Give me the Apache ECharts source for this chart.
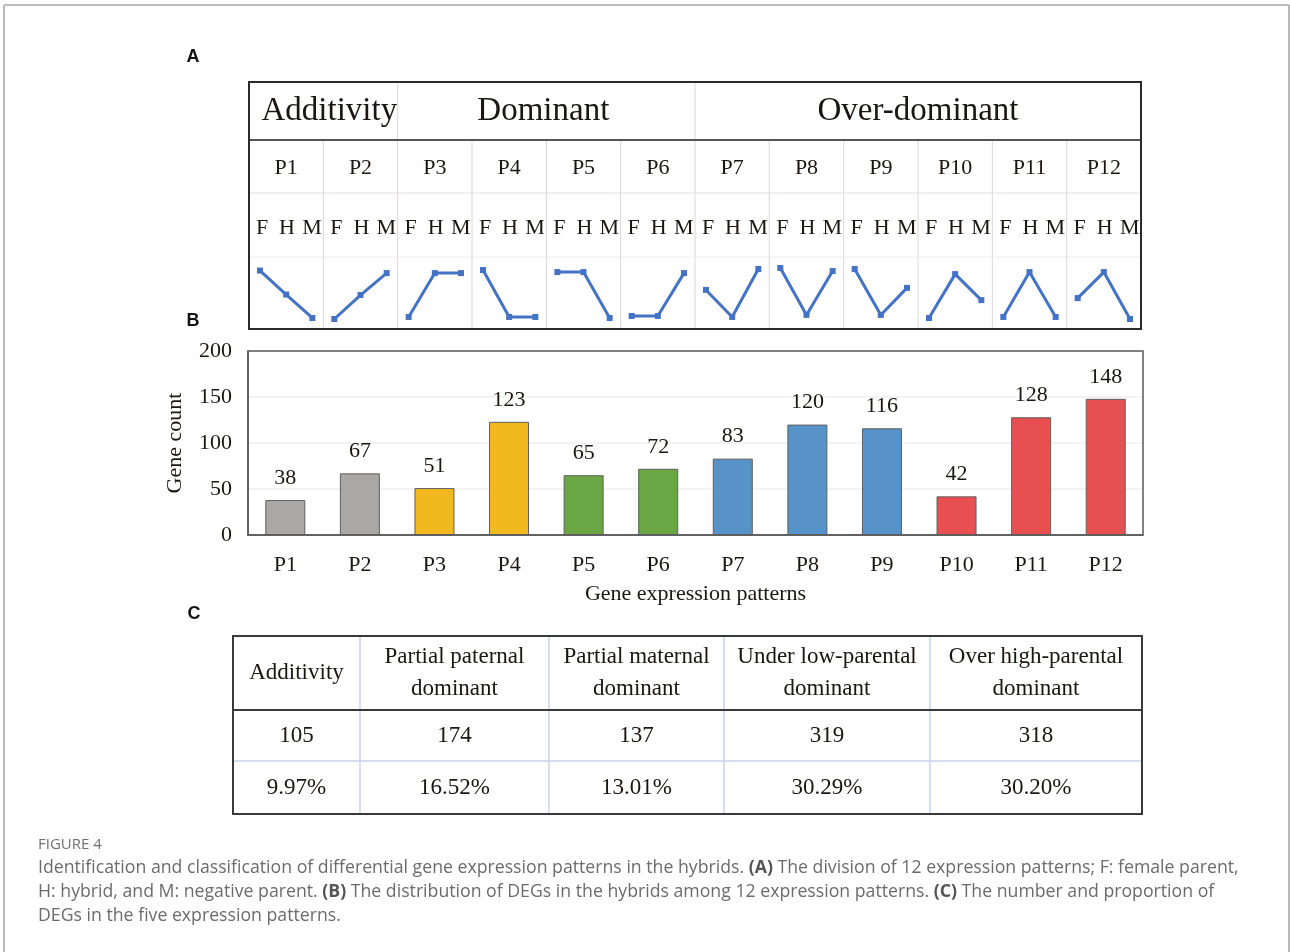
<!DOCTYPE html>
<html>
<head>
<meta charset="utf-8">
<title>Figure 4 – Gene expression patterns</title>
<script src="https://cdn.jsdelivr.net/npm/echarts@6/dist/echarts.min.js"></script>
<style>
  html, body { margin: 0; padding: 0; background: #ffffff; }
  #chart { width: 1290px; height: 952px; }
</style>
</head>
<body>
<div id="chart"></div>
<script>
// ---------- data ----------
const patterns = ['P1', 'P2', 'P3', 'P4', 'P5', 'P6', 'P7', 'P8', 'P9', 'P10', 'P11', 'P12'];
const geneCounts = [38, 67, 51, 123, 65, 72, 83, 120, 116, 42, 128, 148];
const groupNames = ['Additivity', 'Dominant', 'Over-dominant'];
const groupSpans = [2, 4, 6];
const parents = ['F', 'H', 'M'];
// relative expression level of F, H and M in each pattern (0 = low, 10 = high)
const patternLevels = [
  [9.5, 4.8, 0.2],
  [0.0, 4.7, 9.0],
  [0.4, 9.0, 9.0],
  [9.6, 0.4, 0.4],
  [9.2, 9.2, 0.2],
  [0.6, 0.6, 9.0],
  [5.7, 0.4, 9.8],
  [10.0, 0.8, 9.4],
  [9.8, 0.8, 6.1],
  [0.2, 8.8, 3.7],
  [0.4, 9.2, 0.4],
  [4.1, 9.2, 0.0]
];
const yTicks = [0, 50, 100, 150, 200];
const classNames = ['Additivity', 'Partial paternal\ndominant', 'Partial maternal\ndominant',
                    'Under low-parental\ndominant', 'Over high-parental\ndominant'];
const classCounts = [105, 174, 137, 319, 318];
const classShares = ['9.97%', '16.52%', '13.01%', '30.29%', '30.20%'];

// ---------- styles ----------
const barColors = ['#aba7a5', '#aba7a5', '#f2b91f', '#f2b91f', '#6aa744', '#6aa744',
                   '#5792c8', '#5792c8', '#5792c8', '#e84f51', '#e84f51', '#e84f51'];
const SERIF = '"Liberation Serif", "Times New Roman", serif';
const SANS = '"Liberation Sans", Arial, sans-serif';
const CAP = '"Open Sans", "Noto Sans", sans-serif';
const INK = '#1a1613';
const LINE_BLUE = '#4472c4';

// ---------- layout ----------
const A = { x0: 249, x1: 1141, rows: [82, 140, 193, 257, 329] };
const colW = (A.x1 - A.x0) / patterns.length;
const B = { left: 248, right: 1143, top: 351, bottom: 535 };
const C = { cols: [233, 360, 549, 724, 930, 1142], rows: [636, 710, 761, 814] };

const graphics = [];
function hLine(x0, x1, y, color, w) {
  graphics.push({ type: 'line', shape: { x1: x0, y1: y, x2: x1, y2: y },
    style: { stroke: color, lineWidth: w }, silent: true });
}
function vLine(x, y0, y1, color, w) {
  graphics.push({ type: 'line', shape: { x1: x, y1: y0, x2: x, y2: y1 },
    style: { stroke: color, lineWidth: w }, silent: true });
}
function text(str, x, y, font, opts) {
  graphics.push(Object.assign({ type: 'text', x: x, y: y, silent: true,
    style: Object.assign({ text: str, font: font, fill: INK, align: 'center',
      verticalAlign: 'middle' }, opts || {}) }));
}

// page frame
hLine(4, 1289, 5, '#b9b9b9', 2);
vLine(4, 5, 952, '#b9b9b9', 2);
vLine(1289, 5, 952, '#b9b9b9', 2);

// panel letters
text('A', 193, 57, 'bold 18px ' + SANS, { fill: '#111' });
text('B', 193, 321, 'bold 18px ' + SANS, { fill: '#111' });
text('C', 194, 614, 'bold 18px ' + SANS, { fill: '#111' });

// ---- panel A: pattern table ----
const gridLight = '#dcd6d6';
// group header
let acc = 0;
groupNames.forEach((g, i) => {
  const xs = A.x0 + acc * colW, xe = A.x0 + (acc + groupSpans[i]) * colW;
  text(g, (xs + xe) / 2 + (i === 0 ? 6 : i === 1 ? -3 : 0), 111, '33px ' + SERIF);
  acc += groupSpans[i];
  if (i < groupNames.length - 1) vLine(xe, A.rows[0], A.rows[1], gridLight, 1);
});
// pattern columns
for (let i = 1; i < patterns.length; i++) {
  vLine(A.x0 + i * colW, A.rows[1], A.rows[4], gridLight, 1);
}
hLine(A.x0, A.x1, A.rows[2], '#e2dede', 1);
hLine(A.x0, A.x1, A.rows[3], '#eeeaea', 1);
hLine(A.x0, A.x1, A.rows[1], '#555', 2);
patterns.forEach((p, i) => {
  const xl = A.x0 + i * colW;
  text(p, xl + colW / 2, 168, '22px ' + SERIF);
  const offs = [13, 38, 63];
  parents.forEach((s, k) => text(s, xl + offs[k], 228, '22px ' + SERIF));
});
// outer box of table A
graphics.push({ type: 'rect', shape: { x: A.x0, y: A.rows[0], width: A.x1 - A.x0, height: A.rows[4] - A.rows[0] },
  style: { fill: null, stroke: '#2b2b2b', lineWidth: 2 }, silent: true, z: 10 });

// ---- panel B: frame drawn above the split lines ----
graphics.push({ type: 'rect', shape: { x: B.left, y: B.top, width: B.right - B.left, height: B.bottom - B.top },
  style: { fill: null, stroke: '#5a5a5a', lineWidth: 1.5 }, silent: true, z: 100 });

// ---- panel C: summary table ----
const blueRule = '#c8d2e8';
for (let i = 1; i < C.cols.length - 1; i++) vLine(C.cols[i], C.rows[0], C.rows[3], blueRule, 1.5);
hLine(C.cols[0], C.cols[5], C.rows[2], blueRule, 1.5);
hLine(C.cols[0], C.cols[5], C.rows[1], '#3a3a3a', 2);
graphics.push({ type: 'rect', shape: { x: C.cols[0], y: C.rows[0], width: C.cols[5] - C.cols[0], height: C.rows[3] - C.rows[0] },
  style: { fill: null, stroke: '#3a3a3a', lineWidth: 2 }, silent: true, z: 10 });
classNames.forEach((n, i) => {
  const cx = (C.cols[i] + C.cols[i + 1]) / 2;
  text(n, cx, (C.rows[0] + C.rows[1]) / 2, '23px ' + SERIF, { lineHeight: 32 });
  text(String(classCounts[i]), cx, (C.rows[1] + C.rows[2]) / 2, '23px ' + SERIF);
  text(classShares[i], cx, (C.rows[2] + C.rows[3]) / 2, '23px ' + SERIF);
});

// ---- caption ----
const capColor = '#6b6b6b';
text('FIGURE 4', 38, 845, '15px ' + CAP, { align: 'left', fill: '#707070' });
const capLines = [
  'Identification and classification of differential gene expression patterns in the hybrids. {b|(A)} The division of 12 expression patterns; F: female parent,',
  'H: hybrid, and M: negative parent. {b|(B)} The distribution of DEGs in the hybrids among 12 expression patterns. {b|(C)} The number and proportion of',
  'DEGs in the five expression patterns.'
];
capLines.forEach((ln, i) => {
  graphics.push({ type: 'text', x: 38, y: 868 + i * 24, silent: true,
    style: { text: ln, font: '17.7px ' + CAP, fill: capColor, align: 'left', verticalAlign: 'middle',
      rich: { b: { font: 'bold 17.7px ' + CAP, fill: '#555' } } } });
});

// ---------- grids / axes / series ----------
const grids = [{ left: B.left, top: B.top, width: B.right - B.left, height: B.bottom - B.top }];
const xAxes = [{
  type: 'category', gridIndex: 0, data: patterns,
  axisTick: { show: false },
  axisLine: { lineStyle: { color: '#5a5a5a', width: 1.5 } },
  axisLabel: { color: INK, fontFamily: SERIF, fontSize: 22, margin: 19 },
  name: 'Gene expression patterns', nameLocation: 'middle', nameGap: 48,
  nameTextStyle: { color: INK, fontFamily: SERIF, fontSize: 22 }
}];
const yAxes = [{
  type: 'value', gridIndex: 0, min: yTicks[0], max: yTicks[yTicks.length - 1], interval: yTicks[1] - yTicks[0],
  axisLine: { show: true, lineStyle: { color: '#5a5a5a', width: 1.5 } },
  axisTick: { show: false },
  splitLine: { lineStyle: { color: '#efefef', width: 1.5 } },
  axisLabel: { color: INK, fontFamily: SERIF, fontSize: 22, margin: 16 },
  name: 'Gene count', nameLocation: 'middle', nameGap: 62, nameRotate: 90,
  nameTextStyle: { color: INK, fontFamily: SERIF, fontSize: 22 }
}];
const series = [{
  type: 'bar', xAxisIndex: 0, yAxisIndex: 0, barWidth: 40,
  data: geneCounts.map((v, i) => ({ value: v, itemStyle: { color: barColors[i] } })),
  itemStyle: { borderColor: '#5f5f5f', borderWidth: 1 },
  label: { show: true, position: 'top', distance: 11, color: INK, fontFamily: SERIF, fontSize: 22 },
  silent: true
}];

// mini line charts, one per pattern cell of panel A
patternLevels.forEach((lv, i) => {
  const idx = i + 1;
  grids.push({ left: A.x0 + i * colW + 11, top: 268, width: colW - 22, height: 51 });
  xAxes.push({ type: 'category', gridIndex: idx, data: parents, boundaryGap: false, show: false });
  yAxes.push({ type: 'value', gridIndex: idx, min: 0, max: 10, show: false });
  series.push({
    type: 'line', xAxisIndex: idx, yAxisIndex: idx, data: lv,
    symbol: 'rect', symbolSize: 6, showSymbol: true,
    lineStyle: { color: LINE_BLUE, width: 3 },
    itemStyle: { color: LINE_BLUE },
    silent: true, animation: false, z: 5
  });
});

const chart = echarts.init(document.getElementById('chart'), null, { renderer: 'canvas' });
chart.setOption({
  backgroundColor: '#ffffff',
  animation: false,
  grid: grids,
  xAxis: xAxes,
  yAxis: yAxes,
  series: series,
  graphic: { elements: graphics }
});
</script>
</body>
</html>
